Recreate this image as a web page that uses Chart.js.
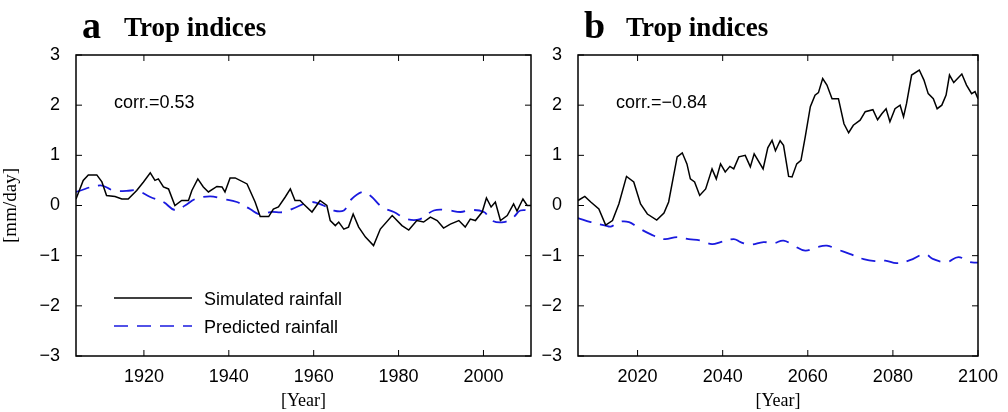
<!DOCTYPE html>
<html><head><meta charset="utf-8">
<script src="https://cdn.jsdelivr.net/npm/chart.js@4"></script>
<style>
body{margin:0;background:#fff;width:1008px;height:412px;overflow:hidden;position:relative}
canvas{position:absolute;top:0}
#ca{left:0}
#cb{left:500px}
</style></head><body>
<canvas id="ca" width="550" height="412"></canvas>
<canvas id="cb" width="508" height="412"></canvas>
<script>
// panel a: simulated (black) and predicted (blue dashed), 20th century
const simYearsA = [1904.0,1905.7,1906.9,1908.9,1910.1,1911.2,1913.2,1914.8,1916.3,1918.3,1919.9,1921.5,1922.6,1923.4,1924.6,1925.8,1927.3,1928.9,1930.5,1931.3,1932.7,1934.0,1935.2,1937.2,1938.4,1939.1,1940.3,1941.5,1944.3,1946.2,1947.4,1949.4,1950.5,1951.7,1953.3,1954.5,1955.6,1956.8,1957.6,1959.6,1961.5,1963.1,1963.9,1965.1,1965.9,1967.1,1968.2,1969.3,1970.6,1972.2,1974.1,1975.7,1978.5,1980.8,1982.4,1984.3,1985.9,1987.5,1989.1,1990.6,1992.2,1994.2,1995.7,1996.9,1998.1,1999.7,2000.7,2001.8,2002.8,2004.0,2005.6,2007.1,2007.9,2009.3,2010.3,2011.2];
const simValsA = [0.13,0.5,0.61,0.61,0.47,0.2,0.18,0.13,0.13,0.3,0.47,0.65,0.5,0.53,0.37,0.33,0,0.1,0.1,0.3,0.53,0.37,0.27,0.38,0.37,0.27,0.55,0.55,0.43,0.07,-0.22,-0.22,-0.07,-0.03,0.17,0.33,0.1,0.1,0.03,-0.13,0.1,0,-0.3,-0.4,-0.33,-0.47,-0.43,-0.17,-0.43,-0.63,-0.8,-0.47,-0.2,-0.4,-0.49,-0.3,-0.33,-0.23,-0.3,-0.45,-0.37,-0.3,-0.43,-0.27,-0.3,-0.13,0.15,-0.03,0.07,-0.3,-0.2,0.03,-0.11,0.13,0,0];
const predYearsA = [1904.0,1909.7,1912.8,1915.9,1918.3,1921.5,1924.6,1927.3,1929.7,1932.1,1935.6,1938.7,1941.9,1945.0,1947.4,1949.8,1952.9,1956.0,1959.2,1962.3,1964.7,1967.1,1968.6,1971.4,1973.3,1976.1,1978.9,1982.0,1985.1,1988.3,1991.4,1994.6,1996.9,2000.1,2002.0,2004.8,2007.1,2008.7,2011.2];
const predValsA = [0.27,0.4,0.3,0.29,0.3,0.17,0.07,-0.09,0,0.13,0.18,0.13,0.07,-0.07,-0.18,-0.13,-0.13,-0.03,0.07,0,-0.1,-0.1,0.1,0.27,0.2,-0.03,-0.13,-0.27,-0.27,-0.1,-0.09,-0.13,-0.09,-0.13,-0.3,-0.33,-0.23,-0.1,-0.11];

// panel b: 21st century projection
const simYearsB = [2006.0,2007.6,2009.0,2010.9,2012.5,2014.1,2015.6,2017.4,2019.1,2020.7,2022.3,2024.5,2026.2,2027.3,2029.3,2030.5,2031.6,2032.4,2033.4,2034.6,2036.0,2037.5,2038.5,2039.5,2040.6,2041.7,2042.6,2043.8,2045.3,2046.5,2047.4,2049.5,2050.6,2051.6,2052.4,2053.5,2054.3,2055.5,2056.3,2057.4,2058.4,2059.4,2060.6,2061.7,2062.5,2063.5,2064.5,2065.7,2067.2,2068.5,2069.6,2070.7,2072.3,2073.5,2075.3,2076.4,2077.4,2078.4,2079.3,2080.5,2081.7,2082.5,2083.2,2084.4,2086.2,2087.3,2088.3,2089.5,2090.4,2091.5,2092.5,2093.3,2094.3,2096.2,2097.3,2098.5,2099.3,2100];
const simValsB = [0.1,0.18,0.07,-0.07,-0.39,-0.3,0.03,0.58,0.47,0.03,-0.17,-0.29,-0.15,0.07,0.97,1.05,0.83,0.53,0.47,0.2,0.33,0.73,0.53,0.83,0.67,0.78,0.73,0.97,1.0,0.77,1.03,0.73,1.15,1.3,1.09,1.29,1.2,0.58,0.57,0.83,0.9,1.37,1.97,2.2,2.25,2.53,2.4,2.13,2.13,1.63,1.45,1.6,1.7,1.87,1.91,1.71,1.83,1.93,1.67,1.93,2.0,1.77,2.03,2.6,2.7,2.5,2.23,2.13,1.93,2.0,2.2,2.6,2.45,2.62,2.4,2.23,2.27,2.13];
const predYearsB = [2006.0,2009.0,2012.5,2013.7,2015.6,2018.0,2019.9,2023.0,2026.2,2029.3,2032.0,2034.8,2037.5,2039.5,2042.6,2044.2,2046.5,2049.6,2052.0,2054.3,2056.7,2059.4,2062.1,2064.5,2066.8,2070.0,2073.1,2075.8,2078.2,2080.9,2084.0,2087.5,2089.5,2092.6,2095.4,2098.1,2100];
const predValsB = [-0.25,-0.33,-0.4,-0.42,-0.33,-0.33,-0.43,-0.57,-0.67,-0.63,-0.67,-0.7,-0.77,-0.73,-0.67,-0.73,-0.78,-0.73,-0.75,-0.7,-0.8,-0.9,-0.83,-0.8,-0.87,-0.97,-1.07,-1.11,-1.1,-1.15,-1.09,-0.97,-1.07,-1.13,-1.03,-1.13,-1.14];

const yTicks = [-3,-2,-1,0,1,2,3];
const xTicksA = [1920,1940,1960,1980,2000];
const xTicksB = [2020,2040,2060,2080,2100];

const serif = "'Liberation Serif', 'DejaVu Serif', serif";
const sans = "'Liberation Sans', Arial, sans-serif";

function pts(xs, ys) {
  return xs.map((x, i) => ({ x: x, y: ys[i] }));
}

// matlab-like frame with inward ticks + panel texts
const framePlugin = {
  id: "frame",
  afterDraw(chart, args, opts) {
    const ctx = chart.ctx;
    const a = chart.chartArea;
    const xs = chart.scales.x, ys = chart.scales.y;
    ctx.save();
    ctx.strokeStyle = "#000";
    ctx.lineWidth = 1.5;
    ctx.strokeRect(a.left, a.top, a.right - a.left, a.bottom - a.top);
    ctx.lineWidth = 1;
    const t = 6;
    opts.xTicks.forEach(v => {
      const p = xs.getPixelForValue(v);
      ctx.beginPath();
      ctx.moveTo(p, a.bottom); ctx.lineTo(p, a.bottom - t);
      ctx.moveTo(p, a.top); ctx.lineTo(p, a.top + t);
      ctx.stroke();
    });
    yTicks.forEach(v => {
      const p = ys.getPixelForValue(v);
      ctx.beginPath();
      ctx.moveTo(a.left, p); ctx.lineTo(a.left + t, p);
      ctx.moveTo(a.right, p); ctx.lineTo(a.right - t, p);
      ctx.stroke();
    });
    ctx.fillStyle = "#000";
    ctx.textBaseline = "alphabetic";
    ctx.font = "bold 38px " + serif;
    ctx.fillText(opts.letter, a.left + 6, 38);
    ctx.font = "bold 27px " + serif;
    ctx.fillText("Trop indices", a.left + 48, 36);
    ctx.font = "18px " + sans;
    ctx.fillText(opts.corr, a.left + 38, 108);
    if (opts.legend) {
      const lx = a.left + 38;
      ctx.lineWidth = 1.5;
      ctx.strokeStyle = "#000";
      ctx.beginPath(); ctx.moveTo(lx, 298); ctx.lineTo(lx + 78, 298); ctx.stroke();
      ctx.strokeStyle = "#1a1adf";
      ctx.setLineDash([14, 9]);
      ctx.beginPath(); ctx.moveTo(lx, 326); ctx.lineTo(lx + 78, 326); ctx.stroke();
      ctx.setLineDash([]);
      ctx.fillText("Simulated rainfall", lx + 90, 305);
      ctx.fillText("Predicted rainfall", lx + 90, 333);
    }
    ctx.restore();
  }
};

function makePanel(id, simX, simY, predX, predY, xMin, xMax, xTicks, letter, corr, legend, yTitle, padRight) {
  new Chart(document.getElementById(id), {
    type: "line",
    data: {
      datasets: [
        { data: pts(simX, simY), borderColor: "#000", borderWidth: 1.5, pointRadius: 0, tension: 0 },
        { data: pts(predX, predY), borderColor: "#1a1adf", borderWidth: 1.8, borderDash: [14, 9], pointRadius: 0, tension: 0.4 }
      ]
    },
    options: {
      responsive: false,
      animation: false,
      layout: { padding: { top: 55, right: padRight, left: 0, bottom: 0 } },
      plugins: {
        legend: { display: false },
        tooltip: { enabled: false },
        frame: { letter: letter, corr: corr, legend: legend, xTicks: xTicks }
      },
      scales: {
        x: {
          type: "linear", min: xMin, max: xMax,
          afterBuildTicks: s => { s.ticks = xTicks.map(v => ({ value: v })); },
          ticks: { color: "#000", font: { family: sans, size: 18 }, maxRotation: 0, padding: 2, callback: v => String(v) },
          grid: { display: false },
          border: { display: false },
          title: { display: true, text: "[Year]", color: "#000", font: { family: serif, size: 18 }, padding: { top: 0, bottom: 0 } },
          afterFit: s => { s.height = 56; }
        },
        y: {
          min: -3, max: 3,
          afterBuildTicks: s => { s.ticks = yTicks.map(v => ({ value: v })); },
          ticks: { color: "#000", font: { family: sans, size: 18 }, padding: 8, callback: v => String(v).replace("-", "\u2212") },
          grid: { display: false },
          border: { display: false },
          title: { display: yTitle, text: "[mm/day]", color: "#000", font: { family: serif, size: 19 }, padding: { top: 0, bottom: 6 } },
          afterFit: s => { s.width = id === "ca" ? 76 : 78; }
        }
      }
    },
    plugins: [framePlugin]
  });
}

makePanel("ca", simYearsA, simValsA, predYearsA, predValsA, 1904, 2011.2, xTicksA, "a", "corr.=0.53", true, true, 19);
makePanel("cb", simYearsB, simValsB, predYearsB, predValsB, 2006, 2100, xTicksB, "b", "corr.=\u22120.84", false, false, 30);
</script>
</body></html>
